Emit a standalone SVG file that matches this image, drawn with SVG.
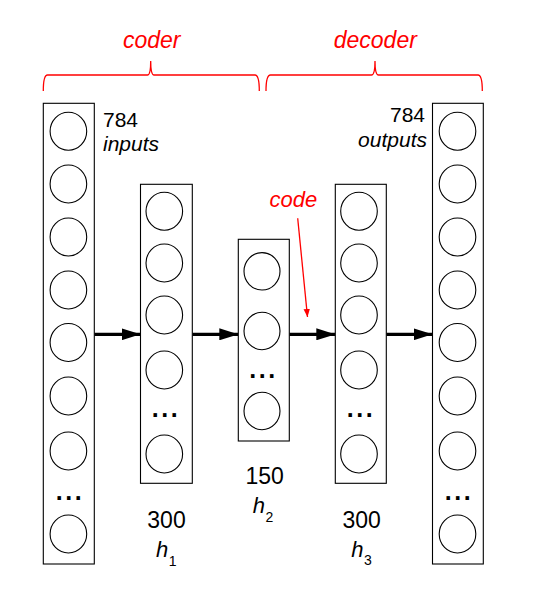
<svg xmlns="http://www.w3.org/2000/svg" width="545" height="592" viewBox="0 0 545 592">
<style>
.box{fill:#fff;stroke:#000;stroke-width:1.1}
.n{fill:none;stroke:#000;stroke-width:1.1}
.t{font-family:"Liberation Sans",Arial,sans-serif;fill:#000}
.i{font-style:italic}
.red{fill:#f00}
.dots{font-family:"Liberation Sans",Arial,sans-serif;font-weight:bold;font-size:25px;letter-spacing:2.6px;text-anchor:middle;fill:#000}
.brace{fill:none;stroke:#f00;stroke-width:1.3}
.conn{stroke:#000;stroke-width:3.2;fill:none}
</style>
<defs>
<marker id="ah" viewBox="0 0 19 12" refX="19" refY="6" markerWidth="19" markerHeight="12" markerUnits="userSpaceOnUse" orient="auto">
<path d="M0,0 L19,6 L0,12 Z" fill="#000"/>
</marker>
<marker id="rh" viewBox="0 0 8 8" refX="8" refY="4" markerWidth="8" markerHeight="8" markerUnits="userSpaceOnUse" orient="auto">
<path d="M0,0.8 L8,4 L0,7.2 Z" fill="#f00"/>
</marker>
</defs>

<g id="labels-top">
<text class="t i red" x="151.7" y="48.3" font-size="23" text-anchor="middle">coder</text>
<text class="t i red" x="375.3" y="48.3" font-size="23" text-anchor="middle">decoder</text>
<path class="brace" d="M43.3,91 Q43.3,75 47.5,75 L147.5,75 Q150.7,75 150.7,61 Q150.7,75 154,75 L255,75 Q259.3,75 259.3,91"/>
<path class="brace" d="M266,91 Q266,75 270.5,75 L371.5,75 Q375,75 375,61 Q375,75 378.5,75 L478,75 Q482.3,75 482.3,91"/>
</g>

<g id="connectors">
<line class="conn" x1="94.3" y1="334.3" x2="140.5" y2="334.3" marker-end="url(#ah)"/>
<line class="conn" x1="192.3" y1="334.3" x2="238.3" y2="334.3" marker-end="url(#ah)"/>
<line class="conn" x1="289.3" y1="334.3" x2="335.3" y2="334.3" marker-end="url(#ah)"/>
<line class="conn" x1="386.3" y1="334.3" x2="432.5" y2="334.3" marker-end="url(#ah)"/>
<line x1="297.7" y1="218.3" x2="307.5" y2="317" stroke="#f00" stroke-width="1.3" marker-end="url(#rh)"/>
</g>

<g id="input-layer">
<rect class="box" x="43.3" y="103.3" width="51" height="460.7"/>
<ellipse class="n" cx="68.4" cy="131.3" rx="18.3" ry="19"/>
<ellipse class="n" cx="68.4" cy="184" rx="18.3" ry="19"/>
<ellipse class="n" cx="68.4" cy="237" rx="18.3" ry="19"/>
<ellipse class="n" cx="68.4" cy="290" rx="18.3" ry="19"/>
<ellipse class="n" cx="68.4" cy="342.5" rx="18.3" ry="19"/>
<ellipse class="n" cx="68.4" cy="396" rx="18.3" ry="19"/>
<ellipse class="n" cx="68.4" cy="451" rx="18.3" ry="19"/>
<text class="dots" x="70" y="500">...</text>
<ellipse class="n" cx="68.4" cy="534" rx="18.3" ry="19"/>
<text class="t" x="103" y="126.7" font-size="21">784</text>
<text class="t i" x="103" y="151" font-size="21">inputs</text>
</g>

<g id="h1-layer">
<rect class="box" x="140.5" y="184.3" width="51.8" height="299"/>
<ellipse class="n" cx="164.3" cy="211.3" rx="18.3" ry="19"/>
<ellipse class="n" cx="164.3" cy="263" rx="18.3" ry="19"/>
<ellipse class="n" cx="164.3" cy="315" rx="18.3" ry="19"/>
<ellipse class="n" cx="164.3" cy="370" rx="18.3" ry="19"/>
<text class="dots" x="166" y="417">...</text>
<ellipse class="n" cx="164.3" cy="454" rx="18.3" ry="19"/>
<text class="t" x="166.5" y="528.3" font-size="23" text-anchor="middle">300</text>
<text class="t i" x="156" y="557.3" font-size="22">h<tspan font-size="14" font-style="normal" dy="8.4" dx="0.5">1</tspan></text>
</g>

<g id="h2-layer">
<rect class="box" x="238.3" y="239.3" width="51" height="201.7"/>
<ellipse class="n" cx="262" cy="271.3" rx="18" ry="18.7"/>
<ellipse class="n" cx="262" cy="331" rx="18" ry="18.7"/>
<text class="dots" x="263.5" y="377.5">...</text>
<ellipse class="n" cx="262" cy="411" rx="18" ry="18.7"/>
<text class="t" x="264.7" y="484" font-size="23" text-anchor="middle">150</text>
<text class="t i" x="252.8" y="512.7" font-size="22">h<tspan font-size="14" font-style="normal" dy="9" dx="0.5">2</tspan></text>
</g>

<g id="h3-layer">
<rect class="box" x="335.3" y="184.3" width="51" height="299"/>
<ellipse class="n" cx="359" cy="211.3" rx="18.3" ry="19"/>
<ellipse class="n" cx="359" cy="263" rx="18.3" ry="19"/>
<ellipse class="n" cx="359" cy="315" rx="18.3" ry="19"/>
<ellipse class="n" cx="359" cy="370" rx="18.3" ry="19"/>
<text class="dots" x="361" y="417">...</text>
<ellipse class="n" cx="359" cy="454" rx="18.3" ry="19"/>
<text class="t" x="361.7" y="528.3" font-size="23" text-anchor="middle">300</text>
<text class="t i" x="351.2" y="556.7" font-size="22">h<tspan font-size="14" font-style="normal" dy="8.3" dx="0.5">3</tspan></text>
</g>

<g id="output-layer">
<rect class="box" x="432.5" y="103.3" width="50.8" height="460.7"/>
<ellipse class="n" cx="457.5" cy="131.3" rx="18.3" ry="19"/>
<ellipse class="n" cx="457.5" cy="184" rx="18.3" ry="19"/>
<ellipse class="n" cx="457.5" cy="237" rx="18.3" ry="19"/>
<ellipse class="n" cx="457.5" cy="290" rx="18.3" ry="19"/>
<ellipse class="n" cx="457.5" cy="342.5" rx="18.3" ry="19"/>
<ellipse class="n" cx="457.5" cy="396" rx="18.3" ry="19"/>
<ellipse class="n" cx="457.5" cy="451" rx="18.3" ry="19"/>
<text class="dots" x="459" y="500">...</text>
<ellipse class="n" cx="457.5" cy="534" rx="18.3" ry="19"/>
<text class="t" x="425" y="122.3" font-size="21" text-anchor="end">784</text>
<text class="t i" x="427" y="146.5" font-size="21" text-anchor="end">outputs</text>
</g>

<g id="code-label">
<text class="t i red" x="293.3" y="206.7" font-size="22" text-anchor="middle">code</text>
</g>
</svg>
